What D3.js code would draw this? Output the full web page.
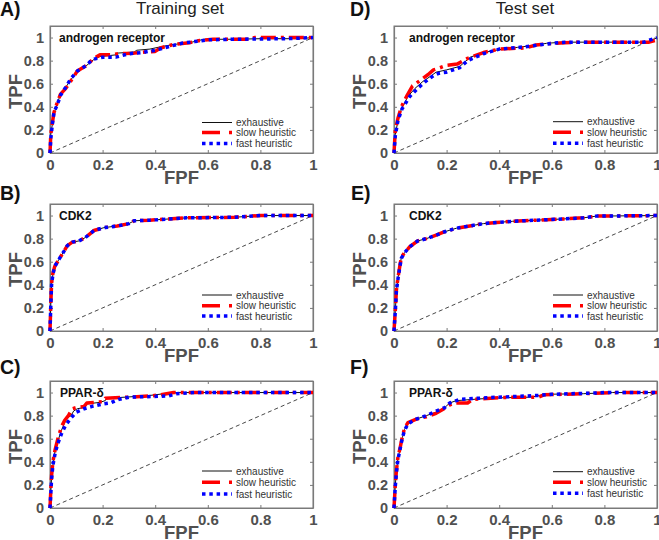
<!DOCTYPE html>
<html><head><meta charset="utf-8">
<script src="https://cdn.jsdelivr.net/npm/d3@7"></script>
<style>body{margin:0;background:#fff}svg{display:block;font-family:"Liberation Sans",Arial,sans-serif}</style>
</head><body><svg id="c" width="659" height="540"></svg>
<script>
// ---------------- DATA ----------------
const columnTitles = ["Training set", "Test set"];
const panelLetters = ["A)", "B)", "C)", "D)", "E)", "F)"];
const targetNames = ["androgen receptor", "CDK2", "PPAR-δ"];
const seriesNames = ["exhaustive", "slow heuristic", "fast heuristic"];
const tickValues = [0, 0.2, 0.4, 0.6, 0.8, 1];
const tickLabels = ["0", "0.2", "0.4", "0.6", "0.8", "1"];
const diagonal = [[0, 0], [1, 1]];

// Training set, androgen receptor  [FPF, TPF]
const trainAR_exhaustive = [[0,0],[0.003,0.16],[0.009,0.25],[0.015,0.34],[0.028,0.43],[0.04,0.51],[0.06,0.57],[0.078,0.63],[0.104,0.71],[0.14,0.76],[0.167,0.81],[0.19,0.835],[0.23,0.845],[0.25,0.85],[0.255,0.865],[0.32,0.875],[0.33,0.89],[0.38,0.9],[0.42,0.92],[0.47,0.94],[0.53,0.955],[0.585,0.985],[0.7,0.985],[0.8,0.99],[0.95,0.99],[1,1]];
const trainAR_slow = [[0,0],[0.003,0.16],[0.009,0.26],[0.015,0.35],[0.028,0.44],[0.04,0.51],[0.06,0.56],[0.078,0.62],[0.104,0.71],[0.14,0.76],[0.167,0.82],[0.19,0.85],[0.23,0.85],[0.26,0.86],[0.32,0.865],[0.36,0.875],[0.4,0.88],[0.42,0.91],[0.47,0.94],[0.53,0.955],[0.57,0.975],[0.62,0.985],[0.75,0.985],[0.78,1],[1,1]];
const trainAR_fast = [[0,0],[0.003,0.12],[0.009,0.25],[0.015,0.35],[0.028,0.42],[0.04,0.5],[0.06,0.57],[0.078,0.64],[0.104,0.71],[0.14,0.76],[0.16,0.81],[0.2,0.83],[0.25,0.83],[0.3,0.86],[0.35,0.87],[0.4,0.89],[0.45,0.92],[0.5,0.95],[0.55,0.965],[0.6,0.98],[0.7,0.985],[0.9,0.99],[1,1]];

// Training set, CDK2
const trainCDK2_exhaustive = [[0,0],[0.003,0.23],[0.006,0.4],[0.011,0.49],[0.018,0.56],[0.034,0.62],[0.053,0.69],[0.066,0.74],[0.085,0.77],[0.11,0.78],[0.135,0.81],[0.167,0.87],[0.205,0.895],[0.256,0.91],[0.3,0.93],[0.32,0.955],[0.38,0.96],[0.45,0.97],[0.52,0.98],[0.7,0.985],[0.8,1],[1,1]];
const trainCDK2_slow = [[0,0],[0.003,0.23],[0.006,0.41],[0.011,0.5],[0.018,0.56],[0.034,0.62],[0.053,0.69],[0.066,0.74],[0.085,0.77],[0.11,0.78],[0.135,0.81],[0.167,0.87],[0.205,0.895],[0.256,0.91],[0.3,0.93],[0.32,0.955],[0.38,0.96],[0.45,0.97],[0.52,0.98],[0.7,0.985],[0.8,1],[1,1]];
const trainCDK2_fast = [[0,0],[0.003,0.22],[0.006,0.4],[0.011,0.49],[0.018,0.56],[0.034,0.62],[0.053,0.69],[0.066,0.74],[0.085,0.77],[0.11,0.78],[0.135,0.81],[0.167,0.87],[0.205,0.895],[0.256,0.91],[0.3,0.93],[0.32,0.955],[0.38,0.96],[0.45,0.97],[0.52,0.98],[0.7,0.985],[0.8,1],[1,1]];

// Training set, PPAR-δ
const trainPPAR_exhaustive = [[0,0],[0.003,0.14],[0.006,0.26],[0.011,0.37],[0.019,0.49],[0.03,0.58],[0.043,0.67],[0.056,0.74],[0.065,0.78],[0.08,0.8],[0.09,0.84],[0.104,0.86],[0.13,0.87],[0.135,0.9],[0.19,0.915],[0.21,0.93],[0.215,0.95],[0.32,0.965],[0.38,0.975],[0.46,0.997],[0.5,1],[1,1]];
const trainPPAR_slow = [[0,0],[0.003,0.15],[0.006,0.28],[0.011,0.4],[0.019,0.5],[0.03,0.6],[0.043,0.7],[0.056,0.76],[0.07,0.8],[0.085,0.86],[0.1,0.87],[0.13,0.88],[0.14,0.91],[0.2,0.92],[0.21,0.95],[0.3,0.96],[0.38,0.97],[0.42,0.98],[0.47,1],[1,1]];
const trainPPAR_fast = [[0,0],[0.003,0.12],[0.006,0.25],[0.011,0.37],[0.02,0.48],[0.03,0.56],[0.045,0.65],[0.06,0.72],[0.08,0.78],[0.1,0.83],[0.13,0.86],[0.16,0.88],[0.2,0.9],[0.23,0.91],[0.26,0.94],[0.3,0.96],[0.45,0.97],[0.48,0.99],[0.55,1],[1,1]];

// Test set, androgen receptor
const testAR_exhaustive = [[0,0],[0.005,0.16],[0.015,0.28],[0.028,0.38],[0.053,0.49],[0.08,0.56],[0.11,0.62],[0.136,0.66],[0.16,0.7],[0.2,0.72],[0.25,0.75],[0.27,0.79],[0.29,0.83],[0.34,0.87],[0.4,0.895],[0.47,0.915],[0.54,0.935],[0.58,0.95],[0.64,0.96],[0.96,0.96],[0.985,0.98],[1,1]];
const testAR_slow = [[0,0],[0.005,0.2],[0.015,0.3],[0.028,0.4],[0.05,0.5],[0.07,0.58],[0.1,0.63],[0.13,0.68],[0.15,0.72],[0.165,0.73],[0.2,0.76],[0.24,0.77],[0.28,0.82],[0.34,0.87],[0.4,0.9],[0.5,0.91],[0.54,0.935],[0.6,0.95],[0.65,0.955],[0.7,0.96],[0.97,0.96],[1,0.98]];
const testAR_fast = [[0,0],[0.005,0.15],[0.015,0.28],[0.03,0.38],[0.06,0.49],[0.09,0.56],[0.12,0.62],[0.15,0.67],[0.17,0.69],[0.2,0.7],[0.25,0.74],[0.28,0.8],[0.34,0.86],[0.4,0.9],[0.5,0.92],[0.55,0.935],[0.6,0.95],[0.65,0.96],[0.95,0.96],[1,1]];

// Test set, CDK2
const testCDK2_exhaustive = [[0,0],[0.005,0.17],[0.009,0.34],[0.015,0.46],[0.022,0.55],[0.028,0.64],[0.041,0.68],[0.06,0.73],[0.09,0.78],[0.123,0.8],[0.16,0.83],[0.193,0.86],[0.237,0.89],[0.288,0.91],[0.34,0.93],[0.39,0.94],[0.45,0.95],[0.54,0.96],[0.64,0.97],[0.72,0.98],[0.77,0.995],[1,1]];
const testCDK2_slow = [[0,0],[0.005,0.18],[0.009,0.35],[0.015,0.46],[0.022,0.56],[0.028,0.64],[0.041,0.68],[0.06,0.73],[0.09,0.78],[0.123,0.8],[0.16,0.83],[0.193,0.86],[0.237,0.89],[0.288,0.91],[0.34,0.93],[0.39,0.94],[0.45,0.95],[0.54,0.96],[0.64,0.97],[0.72,0.98],[0.77,0.995],[1,1]];
const testCDK2_fast = [[0,0],[0.005,0.17],[0.009,0.34],[0.015,0.45],[0.022,0.55],[0.028,0.63],[0.041,0.68],[0.06,0.73],[0.09,0.78],[0.123,0.8],[0.16,0.83],[0.193,0.86],[0.237,0.89],[0.288,0.91],[0.34,0.93],[0.39,0.94],[0.45,0.95],[0.54,0.96],[0.64,0.97],[0.72,0.98],[0.77,0.995],[1,1]];

// Test set, PPAR-δ
const testPPAR_exhaustive = [[0,0],[0.005,0.2],[0.009,0.31],[0.015,0.43],[0.024,0.52],[0.032,0.61],[0.04,0.68],[0.053,0.735],[0.085,0.77],[0.123,0.8],[0.16,0.83],[0.193,0.87],[0.212,0.91],[0.237,0.93],[0.326,0.945],[0.415,0.955],[0.52,0.96],[0.58,0.985],[0.72,0.99],[0.83,1],[1,1]];
const testPPAR_slow = [[0,0],[0.005,0.2],[0.009,0.32],[0.015,0.44],[0.024,0.53],[0.032,0.62],[0.04,0.69],[0.053,0.74],[0.085,0.77],[0.123,0.79],[0.16,0.82],[0.19,0.86],[0.21,0.89],[0.23,0.91],[0.28,0.91],[0.3,0.94],[0.4,0.955],[0.45,0.96],[0.55,0.96],[0.57,0.98],[0.72,0.99],[0.85,1],[1,1]];
const testPPAR_fast = [[0,0],[0.005,0.19],[0.009,0.3],[0.015,0.42],[0.024,0.52],[0.032,0.61],[0.04,0.67],[0.053,0.73],[0.085,0.77],[0.123,0.8],[0.16,0.84],[0.193,0.87],[0.212,0.91],[0.25,0.94],[0.35,0.955],[0.45,0.965],[0.55,0.975],[0.6,0.985],[0.75,0.995],[0.8,1],[1,1]];

// ---------------- LAYOUT ----------------
const svg = d3.select("#c");
const grey = "#7a7a7a", textGrey = "#505050";
const seriesStyle = [
  {stroke: "#111", width: 1, dash: null},
  {stroke: "#ff0000", width: 3.5, dash: "15 5 3 5"},
  {stroke: "#0000ff", width: 3.5, dash: "3.5 3.8"}
];

const panels = [
  {letter: panelLetters[0], name: targetNames[0], series: [trainAR_exhaustive, trainAR_slow, trainAR_fast], x0: 50, x1: 313, y0: 26, y1: 153, nameX: 59, legX: 202, legY: [122.5, 132.5, 143.5], letterX: 0, letterY: 16},
  {letter: panelLetters[1], name: targetNames[1], series: [trainCDK2_exhaustive, trainCDK2_slow, trainCDK2_fast], x0: 50, x1: 313, y0: 204, y1: 331, nameX: 59, legX: 202, legY: [295, 305.7, 316], letterX: 0, letterY: 200},
  {letter: panelLetters[2], name: targetNames[2], series: [trainPPAR_exhaustive, trainPPAR_slow, trainPPAR_fast], x0: 50, x1: 313, y0: 381, y1: 508, nameX: 60, legX: 202, legY: [471, 482.3, 494], letterX: 0, letterY: 374},
  {letter: panelLetters[3], name: targetNames[0], series: [testAR_exhaustive, testAR_slow, testAR_fast], x0: 394, x1: 657, y0: 26, y1: 153, nameX: 409, legX: 553, legY: [121.7, 132.3, 143.3], letterX: 350, letterY: 16},
  {letter: panelLetters[4], name: targetNames[1], series: [testCDK2_exhaustive, testCDK2_slow, testCDK2_fast], x0: 394, x1: 657, y0: 204, y1: 331, nameX: 409, legX: 553, legY: [295, 305.7, 316], letterX: 351, letterY: 200},
  {letter: panelLetters[5], name: targetNames[2], series: [testPPAR_exhaustive, testPPAR_slow, testPPAR_fast], x0: 394, x1: 657, y0: 381, y1: 508, nameX: 409, legX: 553, legY: [471.7, 482.3, 493.3], letterX: 350, letterY: 374}
];

// column titles
svg.append("text").attr("x", 180).attr("y", 14).attr("text-anchor", "middle")
  .attr("font-size", 17).attr("fill", "#222").text(columnTitles[0]);
svg.append("text").attr("x", 525).attr("y", 14).attr("text-anchor", "middle")
  .attr("font-size", 17).attr("fill", "#222").text(columnTitles[1]);

panels.forEach(p => {
  const g = svg.append("g");
  const x = d3.scaleLinear().domain([0, 1]).range([p.x0, p.x1]);
  const y = d3.scaleLinear().domain([0, 1.1]).range([p.y1, p.y0]);

  // panel letter
  g.append("text").attr("x", p.letterX).attr("y", p.letterY).attr("font-size", 19.5)
    .attr("font-weight", "bold").attr("fill", "#111").text(p.letter);

  // box
  g.append("rect").attr("x", p.x0).attr("y", p.y0).attr("width", p.x1 - p.x0).attr("height", p.y1 - p.y0)
    .attr("fill", "#fff").attr("stroke", grey).attr("stroke-width", 1);

  // axes with inward ticks
  const fmt = v => tickLabels[tickValues.indexOf(v)];
  const ax = g.append("g").attr("transform", `translate(0,${p.y1})`)
    .call(d3.axisBottom(x).tickValues(tickValues).tickFormat(fmt).tickSizeInner(-3).tickSizeOuter(0).tickPadding(6));
  const axTop = g.append("g").attr("transform", `translate(0,${p.y0})`)
    .call(d3.axisTop(x).tickValues(tickValues).tickFormat("").tickSizeInner(-3).tickSizeOuter(0));
  const ay = g.append("g").attr("transform", `translate(${p.x0},0)`)
    .call(d3.axisLeft(y).tickValues(tickValues).tickFormat(fmt).tickSizeInner(-3).tickSizeOuter(0).tickPadding(6));
  const ayR = g.append("g").attr("transform", `translate(${p.x1},0)`)
    .call(d3.axisRight(y).tickValues(tickValues).tickFormat("").tickSizeInner(-3).tickSizeOuter(0));
  [ax, axTop, ay, ayR].forEach(a => {
    a.select(".domain").attr("stroke", grey).attr("stroke-width", 1.2);
    a.selectAll(".tick line").attr("stroke", grey);
  });
  ax.selectAll(".tick text").attr("font-size", 15).attr("font-weight", "bold").attr("fill", textGrey)
    .attr("font-family", '"Liberation Sans",Arial,sans-serif').attr("dy", "0.72em");
  ay.selectAll(".tick text").attr("font-size", 14.5).attr("font-weight", "bold").attr("fill", textGrey)
    .attr("font-family", '"Liberation Sans",Arial,sans-serif');

  // axis titles
  g.append("text").attr("x", (p.x0 + p.x1) / 2).attr("y", p.y1 + 30.5).attr("text-anchor", "middle")
    .attr("font-size", 18.5).attr("font-weight", "bold").attr("fill", textGrey).text("FPF");
  g.append("text").attr("transform", `translate(${p.x0 - 28},${(p.y0 + p.y1) / 2 + 2}) rotate(-90)`)
    .attr("text-anchor", "middle").attr("font-size", 18.5).attr("font-weight", "bold").attr("fill", textGrey).text("TPF");

  // diagonal
  const line = d3.line().x(d => x(d[0])).y(d => y(d[1]));
  g.append("path").attr("d", line(diagonal)).attr("fill", "none").attr("stroke", "#333")
    .attr("stroke-width", 0.9).attr("stroke-dasharray", "4 3");

  // curves
  p.series.forEach((s, i) => {
    const st = seriesStyle[i];
    g.append("path").attr("d", line(s)).attr("fill", "none").attr("stroke", st.stroke)
      .attr("stroke-width", st.width).attr("stroke-dasharray", st.dash).attr("stroke-linejoin", "round");
  });

  // target name
  g.append("text").attr("x", p.nameX).attr("y", p.y0 + 15.5).attr("font-size", 12).attr("font-weight", "bold")
    .attr("fill", "#111").text(p.name);

  // legend
  seriesNames.forEach((n, i) => {
    const st = seriesStyle[i];
    const ly = p.legY[i];
    g.append("line").attr("x1", p.legX).attr("x2", p.legX + 30).attr("y1", ly).attr("y2", ly)
      .attr("stroke", st.stroke).attr("stroke-width", st.width)
      .attr("stroke-dasharray", i === 1 ? "18 9 3 50" : st.dash);
    g.append("text").attr("x", p.legX + 34).attr("y", ly + 3.5).attr("font-size", 10).attr("fill", "#333").text(n);
  });
});
</script></body></html>
